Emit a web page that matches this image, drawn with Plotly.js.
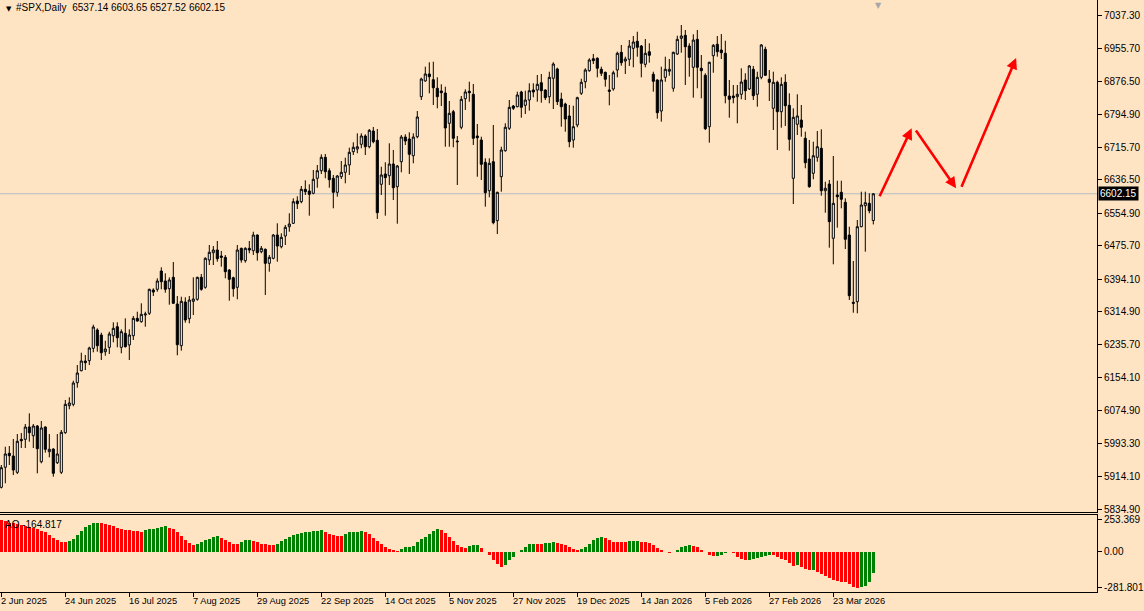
<!DOCTYPE html>
<html><head><meta charset="utf-8">
<script src="https://cdn.plot.ly/plotly-3.0.1.min.js"></script>
<style>html,body{margin:0;padding:0;background:#FFE4C4;overflow:hidden}#chart{width:1144px;height:611px}</style>
</head><body><div id="chart"></div>
<script>
// Daily OHLC of #SPX, bar by bar (oldest first)
const openP = [5887.7,5936.4,5970.5,5963.9,5924.2,6004.5,6004.5,6034.5,6013.3,6036.9,5950.0,6034.5,5974.4,5980.9,5947.6,5924.2,6020.6,6086.3,6089.7,6142.3,
6171.5,6195.1,6195.9,6226.0,6270.6,6258.4,6217.8,6228.4,6256.7,6278.6,6228.4,6262.6,6234.1,6256.7,6299.0,6290.8,6307.1,6311.2,6367.9,6369.6,
6414.2,6389.8,6371.1,6398.8,6333.9,6232.4,6338.7,6298.1,6340.4,6345.3,6398.8,6374.5,6441.0,6458.7,6465.3,6450.7,6447.5,6416.6,6397.9,6374.5,
6469.4,6439.3,6469.4,6463.6,6501.8,6461.2,6467.0,6432.9,6445.1,6501.8,6473.3,6499.4,6522.0,6530.3,6584.6,6582.9,6613.0,6608.9,6603.3,6639.8,
6658.3,6690.9,6658.3,6639.8,6605.7,6643.7,6654.4,6672.2,6704.6,6711.1,6722.6,6742.8,6716.7,6754.9,6732.3,6625.2,6650.3,6646.1,6674.6,6619.4,
6680.2,6740.3,6735.5,6694.8,6741.1,6838.4,6876.7,6893.7,6879.8,6858.9,6852.3,6847.4,6773.7,6801.9,6730.6,6764.0,6833.6,6851.6,6844.3,6742.8,
6733.0,6678.8,6609.6,6680.2,6536.6,6643.7,6707.0,6761.5,6815.8,6814.1,6849.9,6817.5,6830.4,6854.7,6854.7,6872.5,6854.7,6838.4,6883.2,6905.9,
6832.8,6820.7,6791.5,6733.0,6769.6,6846.7,6874.9,6901.7,6930.9,6931.9,6905.1,6897.8,6854.7,6857.2,6903.4,6946.5,6925.3,6929.5,6956.2,6973.3,
6961.8,6917.3,6948.0,6893.0,6879.1,6803.6,6885.6,6900.3,6858.9,6942.4,6980.6,6987.9,6961.8,6910.0,6978.1,6907.6,6890.5,6765.4,6938.2,6966.0,
6952.1,6944.1,6840.1,6840.1,6838.4,6844.3,6879.1,6857.2,6905.1,6844.3,6885.6,6953.8,6880.8,6810.2,6873.5,6801.9,6873.5,6817.5,6639.8,6771.3,
6781.7,6737.2,6686.8,6652.0,6690.9,6712.8,6609.6,6625.9,6493.8,6599.2,6605.7,6581.4,6501.8,6338.0,6339.5,6522.0,6573.1,6578.9,6537.14];
const highP = [5942.0,5986.5,5988.2,6005.3,6017.4,6019.9,6041.8,6067.8,6041.8,6039.4,6049.1,6036.0,6017.4,5982.6,6017.4,6027.2,6100.2,6106.8,6147.2,6185.4,
6215.3,6209.8,6229.9,6283.5,6274.7,6264.0,6244.5,6266.5,6289.3,6289.3,6272.3,6299.0,6272.3,6304.7,6315.1,6335.6,6315.1,6371.1,6372.1,6396.4,
6423.2,6408.6,6398.8,6436.1,6353.3,6351.6,6350.2,6353.3,6398.8,6400.3,6406.9,6447.5,6477.5,6475.0,6487.2,6462.9,6453.1,6418.3,6400.3,6477.5,
6471.0,6471.9,6487.2,6509.8,6503.0,6475.0,6469.0,6453.1,6504.2,6530.3,6505.9,6526.2,6554.6,6591.1,6596.0,6621.1,6634.9,6625.2,6660.0,6672.2,
6698.2,6699.0,6664.2,6647.9,6647.9,6681.9,6690.0,6714.3,6727.4,6749.3,6749.3,6746.9,6759.8,6764.7,6759.8,6668.0,6678.8,6725.0,6708.7,6672.2,
6745.2,6746.9,6751.8,6749.3,6803.6,6884.7,6911.5,6922.2,6923.6,6885.6,6868.6,6862.8,6828.0,6806.1,6742.8,6840.1,6856.4,6874.9,6869.3,6772.0,
6741.1,6688.5,6688.5,6769.6,6607.2,6716.7,6773.7,6830.4,6818.2,6850.6,6853.0,6853.0,6871.0,6871.0,6891.3,6893.7,6856.4,6899.3,6922.2,6909.0,
6848.2,6823.8,6818.2,6816.5,6838.4,6882.2,6907.6,6931.9,6942.4,6934.3,6911.5,6899.3,6891.3,6901.7,6948.0,6964.3,6935.8,6976.4,6986.2,6996.6,
6964.3,6978.9,6968.4,6899.3,6880.8,6911.5,6935.8,6930.2,6948.0,6986.9,7012.9,7000.8,6968.4,6990.3,7000.8,6939.9,6895.4,6923.6,6966.7,6986.2,
6991.0,6974.7,6879.1,6866.9,6866.9,6907.6,6895.4,6915.6,6913.2,6899.3,6966.7,6960.1,6903.4,6899.3,6877.4,6885.6,6893.0,6846.7,6810.2,6844.3,
6818.2,6753.3,6733.0,6728.9,6754.9,6759.1,6631.5,6635.7,6694.1,6634.0,6634.0,6591.1,6522.0,6438.5,6538.3,6607.2,6607.2,6603.3,6603.65];
const lowP = [5885.0,5897.5,5942.0,5917.6,5920.0,5983.4,5983.4,5998.7,5983.4,5921.8,5946.1,5972.0,5960.7,5913.5,5944.4,5920.0,6018.0,6077.6,6085.0,6130.1,
6170.0,6173.2,6185.4,6216.3,6217.8,6197.6,6208.0,6212.2,6240.6,6228.4,6213.9,6228.0,6197.6,6246.2,6290.8,6288.4,6278.6,6307.1,6353.3,6363.8,
6369.6,6361.4,6332.2,6334.0,6209.0,6220.2,6288.4,6286.9,6307.1,6341.9,6366.2,6371.1,6428.8,6428.8,6436.8,6424.7,6396.4,6341.9,6351.6,6345.3,
6434.4,6434.4,6457.3,6453.1,6439.3,6457.3,6355.8,6412.5,6442.6,6436.8,6469.4,6477.5,6509.8,6528.6,6565.1,6579.0,6599.2,6548.8,6600.9,6616.9,
6650.3,6639.8,6616.9,6566.8,6595.0,6638.1,6627.6,6647.9,6696.5,6700.7,6712.8,6696.5,6712.8,6725.0,6540.8,6599.2,6548.8,6623.5,6587.0,6529.3,
6654.4,6720.9,6650.3,6676.3,6737.2,6830.4,6874.9,6846.7,6818.2,6810.2,6815.8,6716.7,6716.7,6715.3,6623.5,6759.1,6806.1,6826.3,6720.9,6643.7,
6635.7,6570.7,6593.6,6527.9,6504.2,6607.2,6704.6,6757.4,6806.1,6812.6,6787.3,6796.3,6804.4,6837.0,6826.3,6823.8,6830.4,6822.4,6808.5,6818.2,
6765.4,6753.3,6715.3,6714.3,6764.0,6842.6,6858.9,6899.3,6918.0,6885.6,6888.8,6862.8,6817.5,6853.0,6885.6,6913.9,6893.7,6913.2,6910.0,6935.8,
6885.6,6910.0,6921.2,6850.6,6784.9,6777.6,6874.9,6889.5,6850.6,6939.9,6945.5,6866.9,6887.1,6836.0,6858.9,6834.5,6757.4,6726.5,6896.8,6935.8,
6930.2,6822.4,6787.3,6822.4,6773.7,6832.1,6830.4,6854.7,6830.4,6814.1,6880.8,6888.8,6828.0,6757.4,6708.7,6763.0,6767.1,6707.0,6577.3,6745.2,
6741.1,6664.2,6617.0,6637.4,6680.2,6597.5,6556.1,6470.9,6430.5,6519.6,6566.8,6467.7,6343.6,6312.7,6311.2,6520.6,6461.2,6554.6,6527.52];
const closeP = [5935.4,5968.8,5964.6,5929.8,5999.7,6001.1,6034.5,6020.6,6036.9,5981.7,6032.1,5980.2,5980.2,5921.8,5968.8,6021.6,6089.7,6092.9,6141.6,6165.9,
6195.1,6191.0,6226.8,6277.9,6232.4,6215.3,6224.3,6260.9,6274.7,6251.8,6266.5,6229.9,6258.4,6299.0,6292.5,6308.8,6309.5,6369.6,6363.1,6389.8,
6388.1,6369.6,6392.3,6335.6,6234.8,6340.4,6294.9,6343.6,6346.0,6398.8,6369.6,6445.1,6459.7,6465.3,6444.1,6447.5,6412.5,6394.0,6371.1,6465.3,
6441.0,6469.4,6465.3,6501.8,6458.7,6469.4,6432.9,6447.5,6501.8,6475.0,6496.2,6520.6,6528.6,6582.9,6578.0,6613.0,6607.2,6600.9,6637.4,6658.3,
6690.9,6655.9,6636.4,6605.7,6645.4,6654.4,6672.2,6703.1,6715.3,6716.7,6742.8,6716.7,6756.6,6728.9,6556.1,6647.9,6641.3,6674.6,6616.9,6669.8,
6740.3,6730.6,6698.2,6740.3,6789.0,6881.5,6893.7,6887.1,6860.3,6838.4,6848.2,6762.3,6798.0,6737.2,6728.9,6832.1,6849.9,6848.2,6737.2,6738.6,
6673.9,6604.8,6676.3,6531.8,6605.7,6708.7,6764.0,6812.6,6810.2,6842.6,6812.6,6830.4,6853.0,6849.9,6868.6,6853.0,6836.0,6885.6,6918.0,6826.3,
6814.1,6784.1,6728.9,6765.4,6836.0,6873.5,6903.4,6927.8,6926.1,6907.6,6895.4,6880.8,6851.6,6896.8,6944.1,6921.2,6930.2,6961.8,6971.6,6958.7,
6919.7,6944.1,6939.2,6875.9,6799.5,6879.1,6905.1,6905.1,6946.5,6978.1,6986.2,6960.1,6934.3,6976.4,6910.0,6901.7,6760.5,6922.2,6963.5,6948.0,
6945.5,6840.9,6832.1,6836.0,6844.3,6874.2,6853.0,6913.2,6840.9,6885.6,6964.3,6890.5,6873.5,6873.5,6801.9,6868.6,6816.5,6734.7,6788.3,6791.5,
6763.9,6677.8,6619.4,6694.8,6716.7,6609.6,6615.5,6534.2,6578.9,6595.0,6588.7,6491.3,6354.1,6335.6,6522.0,6574.8,6580.4,6560.9,6602.15];

// Awesome Oscillator histogram values, one per bar
const aoValues = [253.369,242,231,224,216,211,203,195,187,177,166,153,133,112,94,81,75,
86,104,130,166,192,208,226,231,
229,221,208,200,190,182,174,169,164,161,160,
169,177,182,190,195,200,
190,179,156,122,96,70,57,
62,75,91,104,117,125,
112,94,75,62,60,
78,91,94,
88,75,65,60,55,52,
65,83,99,114,130,140,151,156,159,161,164,169,
156,140,133,127,125,
140,153,156,159,161,
153,138,112,86,60,36,23,13,10,
21,36,39,47,78,104,114,143,166,182,
172,146,117,88,52,36,34,
44,52,55,
29,-3,-26,-60,-96,-114,
-99,-65,-39,-3,18,42,60,65,
62,61,
68,70,75,
68,65,57,42,23,16,
21,36,60,91,109,114,
107,94,81,78,77,76,
83,86,87,
78,75,73,55,31,13,3,-8,
-1,18,39,49,52,
49,36,18,2,-26,-31,
-29,-21,-8,-3,
-5,-39,-52,-65,
-64,-55,-44,-39,-29,-23,
-26,-39,-52,-65,-83,-112,
-104,
-117,-130,-143,
-140,
-156,-169,-187,-208,-221,-229,-234,-239,-255,-273,-281.801,
-278,-268,-234,-164.817];

// Time axis labels (every 16th bar)
const dateTickBars = [0,16,32,48,64,80,96,112,128,144,160,176,192,208];
const dateTickLabels = ['2 Jun 2025','24 Jun 2025','16 Jul 2025','7 Aug 2025','29 Aug 2025','22 Sep 2025','14 Oct 2025',
  '5 Nov 2025','27 Nov 2025','19 Dec 2025','14 Jan 2026','5 Feb 2026','27 Feb 2026','23 Mar 2026'];
// Price axis labels
const priceTicks = [7037.30,6955.70,6876.50,6794.90,6715.70,6636.50,6554.90,6475.70,6394.10,6314.90,6235.70,6154.10,6074.90,5993.30,5914.10,5834.90];
const aoTicks = [253.369, 0, -281.801];
const aoTickText = ['253.369','0.00','-281.801'];

// Forecast arrows drawn on the chart (bar index, price)
const arrowFromBar = [219.4, 228.4, 239.9];
const arrowFromPrice = [6592.6, 6759.8, 6615.5];
const arrowToBar = [227.6, 238.7, 253.7];
const arrowToPrice = [6761.5, 6615.5, 6932.6];

const symbolName = '#SPX,Daily';
const aoName = 'AO';

const n = openP.length;
const bars = openP.map((_, i) => i);
const last = n - 1;
const lastClose = closeP[last];
const aoColors = aoValues.map((v, i) => (i > 0 && v > aoValues[i-1]) ? '#008000' : '#FF0000');

const FONT = 'Liberation Sans, Arial, sans-serif';

const traces = [
  {
    type: 'candlestick', x: bars, open: openP, high: highP, low: lowP, close: closeP,
    xaxis: 'x', yaxis: 'y',
    increasing: {line: {color: '#000000', width: 1}, fillcolor: '#FFFFFF'},
    decreasing: {line: {color: '#000000', width: 1}, fillcolor: '#000000'},
    whiskerwidth: 0, hoverinfo: 'skip', showlegend: false
  },
  {
    type: 'bar', x: bars, y: aoValues, xaxis: 'x2', yaxis: 'y2',
    width: 0.75, marker: {color: aoColors, line: {width: 0}},
    hoverinfo: 'skip', showlegend: false
  }
];

const annotations = [];
dateTickBars.forEach((b, i) => {
  annotations.push({xref: 'x2', yref: 'paper', x: b, y: 0, xanchor: 'left', yanchor: 'top',
    xshift: -2, yshift: -2, showarrow: false, text: dateTickLabels[i],
    font: {family: FONT, size: 9.3, color: '#000'}});
});
// header
annotations.push({xref: 'paper', yref: 'paper', x: 0, y: 1, xanchor: 'left', yanchor: 'top',
  xshift: 4, yshift: -3, showarrow: false, text: '▼', font: {family: 'DejaVu Sans', size: 7, color: '#000'}});
const fmt = v => v.toFixed(2);
annotations.push({xref: 'paper', yref: 'paper', x: 0, y: 1, xanchor: 'left', yanchor: 'top',
  xshift: 14, yshift: 0, showarrow: false,
  text: symbolName + '\u00a0\u00a0' + [openP[last], highP[last], lowP[last], closeP[last]].map(fmt).join(' '),
  font: {family: FONT, size: 10, color: '#000'}});
// AO caption
annotations.push({xref: 'paper', yref: 'paper', x: 0, y: 0.1301, xanchor: 'left', yanchor: 'top',
  xshift: 3, yshift: -2, showarrow: false, text: aoName + ' ' + aoValues[last].toFixed(3),
  font: {family: FONT, size: 10, color: '#000'}});
// current price tag
annotations.push({xref: 'paper', yref: 'y', x: 1, y: lastClose, xanchor: 'left', yanchor: 'middle',
  xshift: 1, showarrow: false, text: fmt(lastClose), bgcolor: '#000000', borderpad: 1,
  font: {family: FONT, size: 10, color: '#FFFFFF'}});
// chart shift marker
annotations.push({xref: 'x', yref: 'paper', x: last + 1.2, y: 1, xanchor: 'center', yanchor: 'top',
  yshift: 0, borderpad: 0, showarrow: false, text: '▼', font: {family: 'DejaVu Sans', size: 8, color: '#A8A8A8'}});
// arrows
arrowToBar.forEach((b, i) => {
  annotations.push({xref: 'x', yref: 'y', axref: 'x', ayref: 'y', x: b, y: arrowToPrice[i],
    ax: arrowFromBar[i], ay: arrowFromPrice[i], text: '', showarrow: true,
    arrowhead: 2, arrowsize: 0.85, arrowwidth: 2.6, arrowcolor: '#FF0000', standoff: 0, startstandoff: 0});
});

const layout = {
  width: 1144, height: 611,
  margin: {l: 0, r: 47, t: 0, b: 19, pad: 0},
  paper_bgcolor: '#FFE4C4', plot_bgcolor: '#FFE4C4',
  showlegend: false, boxgap: 0.25, bargap: 0,
  font: {family: FONT, size: 10, color: '#000'},
  xaxis: {domain: [0, 1], anchor: 'y', range: [-0.325, 273.925], showgrid: false, zeroline: false,
    showticklabels: false, ticks: '', showline: true, mirror: true, linecolor: '#000', linewidth: 1,
    rangeslider: {visible: false}, fixedrange: true},
  xaxis2: {domain: [0, 1], anchor: 'y2', range: [-0.325, 273.925], showgrid: false, zeroline: false,
    showticklabels: false, ticks: 'outside', ticklen: 4, tickcolor: '#000', tickmode: 'array', tickvals: dateTickBars,
    showline: true, mirror: true, linecolor: '#000', linewidth: 1, fixedrange: true},
  yaxis: {domain: [0.1343, 1], anchor: 'x', range: [5826.4, 7073.8], side: 'right', tickmode: 'array',
    tickvals: priceTicks, tickformat: '.2f', ticks: 'outside', ticklen: 4, tickcolor: '#000',
    showgrid: false, zeroline: false, showline: true, mirror: true, linecolor: '#000', linewidth: 1,
    tickfont: {family: FONT, size: 10, color: '#000'}, fixedrange: true},
  yaxis2: {domain: [0, 0.1301], anchor: 'x2', range: [-314, 290], side: 'right', tickmode: 'array',
    tickvals: aoTicks, ticktext: aoTickText, ticks: 'outside', ticklen: 4, tickcolor: '#000',
    showgrid: false, zeroline: false, showline: true, mirror: true, linecolor: '#000', linewidth: 1,
    tickfont: {family: FONT, size: 10, color: '#000'}, fixedrange: true},
  shapes: [
    {type: 'line', xref: 'paper', yref: 'y', x0: 0, x1: 1, y0: lastClose, y1: lastClose,
      line: {color: '#B4BCC4', width: 1}, layer: 'below'}
  ],
  annotations: annotations
};

Plotly.newPlot('chart', traces, layout, {displayModeBar: false, staticPlot: true});
</script>
</body></html>
